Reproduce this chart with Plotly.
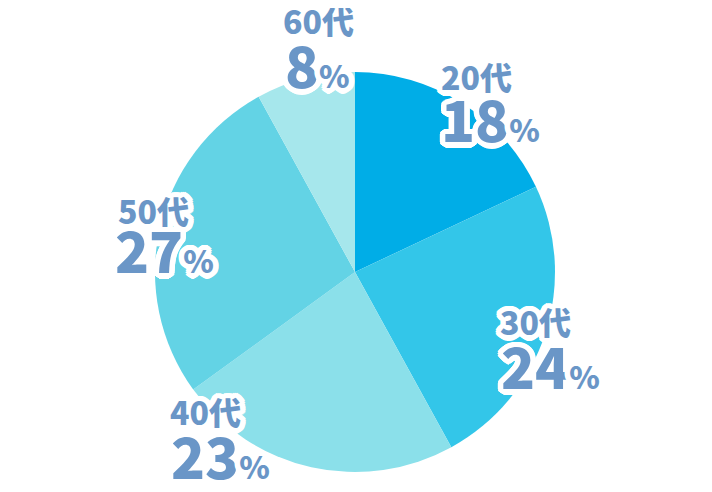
import plotly.graph_objects as go
import math

ages = ["20代", "30代", "40代", "50代", "60代"]
shares = [18, 24, 23, 27, 8]
colors = ["#00ADE7", "#33C6E9", "#8BE0EA", "#63D3E5", "#A6E7EC"]

# label anchor positions in pixels (age line center, percent line center)
age_pos = [(468, 68), (527, 313), (197, 403), (145, 202), (310, 12)]
pct_pos = [(482, 109), (542, 356), (212, 446), (156, 241), (309, 56)]

W, H = 712, 492
LABEL_COLOR = "#6A96C7"
FONT = "Noto Sans CJK JP"

# white outline via text-shadow
sh = []
for r in (2, 4, 5.5):
    n = 20
    for k in range(n):
        a = 2 * math.pi * k / n
        sh.append(f"{r*math.cos(a):.1f}px {r*math.sin(a):.1f}px 0 #fff")
shadow = ", ".join(sh)

fig = go.Figure(go.Pie(
    labels=ages, values=shares, sort=False, direction="clockwise", rotation=0,
    marker=dict(colors=colors, line=dict(width=0)),
    textinfo="none", hoverinfo="label+percent", showlegend=False,
    domain=dict(x=[147 / W, 547 / W], y=[1 - 464 / H, 1 - 64 / H]),
))

anns = []
for i, (age, v) in enumerate(zip(ages, shares)):
    ax, ay = age_pos[i]
    anns.append(dict(
        x=ax / W, y=1 - ay / H, xref="paper", yref="paper", showarrow=False,
        xanchor="center", yanchor="middle", text=age,
        font=dict(family=FONT, size=32, color=LABEL_COLOR, weight=900, shadow=shadow),
    ))
    px, py = pct_pos[i]
    anns.append(dict(
        x=px / W, y=1 - py / H, xref="paper", yref="paper", showarrow=False,
        xanchor="center", yanchor="middle",
        text=f"{v}<span style='font-size:31px'>%</span>",
        font=dict(family=FONT, size=56, color=LABEL_COLOR, weight=900, shadow=shadow),
    ))

fig.update_layout(
    width=W, height=H, margin=dict(l=0, r=0, t=0, b=0),
    paper_bgcolor="white", plot_bgcolor="white", annotations=anns,
)
fig.write_html("out.html")
